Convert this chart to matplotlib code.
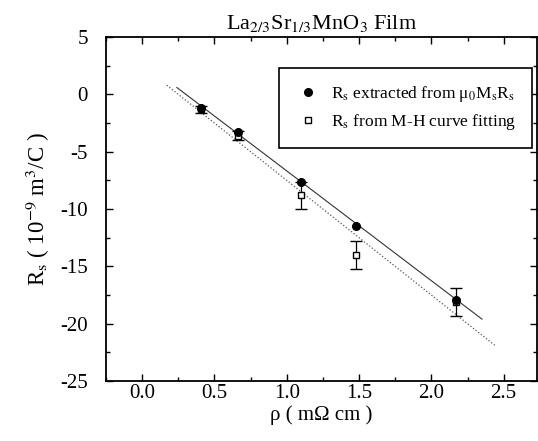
import numpy as np
import matplotlib
matplotlib.use('Agg')
import matplotlib.pyplot as plt
from matplotlib.ticker import MultipleLocator
from matplotlib.lines import Line2D

plt.rcParams['font.family'] = ['Liberation Serif', 'DejaVu Serif']
plt.rcParams['mathtext.fontset'] = 'stix'
plt.rcParams['axes.unicode_minus'] = False

# data
rho = [0.41, 0.66, 1.10, 1.48, 2.17]
rs_mmr = [-1.2, -3.3, -7.6, -11.5, -17.9]       # from mu0 Ms Rs
rs_fit = [-1.3, -3.6, -8.8, -14.0, -18.1]       # from M-H curve fitting
rs_fit_err = [0.3, 0.4, 1.2, 1.2, 1.2]

# straight fit lines (end points)
line1_x = [0.24, 2.35]
line1_y = [0.6, -19.6]
line2_x = [0.17, 2.44]
line2_y = [0.8, -21.9]

fig = plt.figure(figsize=(5.38, 4.41), dpi=100)
ax = fig.add_axes([0.197, 0.136, 0.801, 0.780])

ax.plot(line1_x, line1_y, '-', color='#333333', lw=0.8)
ax.plot(line2_x, line2_y, ':', color='#555555', lw=0.9)

ax.errorbar(rho, rs_fit, yerr=rs_fit_err, fmt='s', color='black',
            mfc='white', mec='black', ms=4.5, mew=1.0, ecolor='black',
            elinewidth=0.9, capsize=4, capthick=0.9, zorder=3)
ax.plot(rho, rs_mmr, 'o', color='black', ms=5.5, zorder=4)

ax.set_xlim(-0.25, 2.73)
ax.set_ylim(-25, 5)
ax.xaxis.set_major_locator(MultipleLocator(0.5))
ax.xaxis.set_minor_locator(MultipleLocator(0.25))
ax.yaxis.set_major_locator(MultipleLocator(5))
ax.yaxis.set_minor_locator(MultipleLocator(2.5))
ax.xaxis.set_major_formatter(matplotlib.ticker.FormatStrFormatter('%.1f'))
ax.tick_params(which='both', direction='in', top=True, right=True, labelsize=15)
ax.tick_params(which='major', length=5, width=1.0)
ax.tick_params(which='minor', length=3, width=1.0)
ax.tick_params(axis='x', which='major', pad=2)
ax.tick_params(axis='y', which='major', pad=13)
for s in ax.spines.values():
    s.set_linewidth(1.3)

ax.set_title(r'La$_{2/3}$Sr$_{1/3}$MnO$_3$ Film', fontsize=16, pad=6)
ax.set_xlabel('ρ ( mΩ cm )', fontsize=15, labelpad=2)
ax.set_ylabel(r'R$_{\rm s}$ ( 10$^{-9}$ m$^3$/C )', fontsize=16.5, labelpad=6)

handles = [Line2D([], [], ls='none', marker='o', color='black', ms=5.5),
           Line2D([], [], ls='none', marker='s', mfc='white', mec='black',
                  ms=4.5, mew=1.0)]
labels = [r'R$_{\rm s}$ extracted from μ$_0$M$_{\rm s}$R$_{\rm s}$',
          r'R$_{\rm s}$ from M-H curve fitting']
leg = ax.legend(handles, labels, loc='upper right',
                bbox_to_anchor=(0.988, 0.910), borderaxespad=0,
                fontsize=12.5, frameon=True,
                fancybox=False, edgecolor='black', borderpad=0.9,
                labelspacing=0.5, handletextpad=0.6, handlelength=1.5,
                framealpha=1)
leg.get_frame().set_linewidth(1.2)

fig.savefig('out.png', dpi=100)
